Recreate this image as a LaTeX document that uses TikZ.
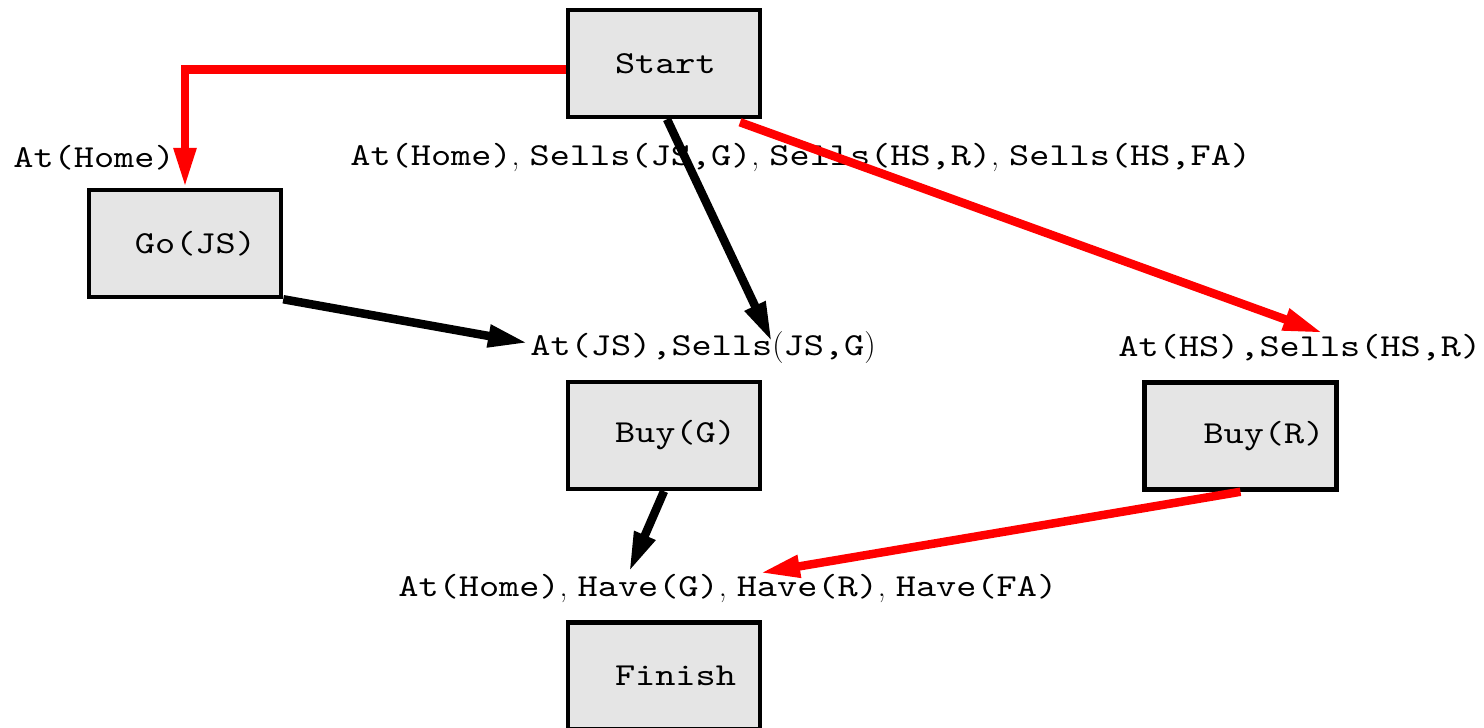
\documentclass[tikz,border=0pt]{standalone}
\usepackage{fontspec}
\usepackage{tikz}
\usepackage{xcolor}
\usetikzlibrary{arrows.meta}
\newfontfamily\planfont{lmmono10-regular}[Extension=.otf,FakeStretch=1.2]
\newcommand\lsep{\textrm{,}\hspace{5pt}}
\definecolor{boxgray}{HTML}{E5E5E5}

\begin{document}
\begin{tikzpicture}[x=0.5pt,y=-0.5pt,
      box/.style={draw,line width=2.25pt,fill=boxgray,inner xsep=0pt,text width=96pt,
        minimum height=53.5pt,align=left,font=\planfont\fontsize{16}{19}\selectfont},
      cond/.style={anchor=west,inner sep=0pt,font=\planfont\fontsize{16}{19}\selectfont},
      arrow/.style={-{Triangle[length=20pt,width=10.5pt]},line width=4.25pt},
      redarrow/.style={arrow,red}]
    \useasboundingbox (0,0) rectangle (1484,728);
    % steps of the plan
    \node[box] (start) at (664,63.5) {\hspace*{23.5pt}Start};
    \node[box] (gojs) at (185,243.5) {\hspace*{23pt}Go(JS)};
    \node[box] (buyg) at (664,435.5) {\hspace*{23.5pt}Buy(G)};
    \node[box] (buyr) at (1240.5,436) {\hspace*{29.5pt}Buy(R)};
    \node[box] (finish) at (664,676) {\hspace*{23.5pt}Finish};
    % conditions
    \node[cond] (pre-go) at (13,158) {At(Home)};
    \node[cond] (eff-start) at (350,157) {At(Home)\lsep Sells(JS,G)\lsep Sells(HS,R)\lsep Sells(HS,FA)};
    \node[cond] (pre-buyg) at (530,348) {At(JS),Sells\textrm{(}JS,G\textrm{)}};
    \node[cond] (pre-buyr) at (1118,348) {At(HS),Sells(HS,R)};
    \node[cond] (pre-finish) at (398,588) {At(Home)\lsep Have(G)\lsep Have(R)\lsep Have(FA)};
    % causal links
    \draw[redarrow] ([shift={(0,6)}]start.west) -| (gojs.north);
    \draw[arrow] ([shift={(3,0)}]start.south) -- ([shift={(242,-6)}]pre-buyg.west);
    \draw[redarrow] ([shift={(76,3)}]start.south) -- ([shift={(205,-15)}]pre-buyr.west);
    \draw[arrow] (gojs.south east) -- ([shift={(-2,-5)}]pre-buyg.west);
    \draw[arrow] (buyg.south) -- ([shift={(231,-16)}]pre-finish.west);
    \draw[redarrow] (buyr.south) -- ([shift={(362,-15)}]pre-finish.west);
\end{tikzpicture}
\end{document}
